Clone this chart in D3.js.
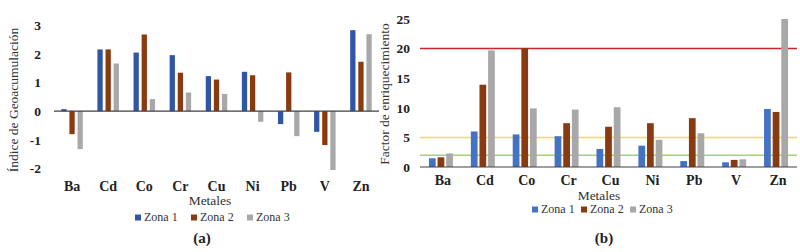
<!DOCTYPE html>
<html>
<head>
<meta charset="utf-8">
<script src="https://cdn.jsdelivr.net/npm/d3@7"></script>
<style>
  body { margin: 0; background: #fff; }
  text { font-family: "Liberation Serif", "DejaVu Serif", serif; }
</style>
</head>
<body>
<svg id="chart" width="800" height="252"></svg>
<script>
// Datos
const metales = ["Ba", "Cd", "Co", "Cr", "Cu", "Ni", "Pb", "V", "Zn"];
const zonas = ["Zona 1", "Zona 2", "Zona 3"];

// (a) Índice de geoacumulación
const igeoZona1 = [0.07, 2.15, 2.04, 1.95, 1.22, 1.37, -0.45, -0.72, 2.82];
const igeoZona2 = [-0.8, 2.15, 2.67, 1.34, 1.1, 1.25, 1.35, -1.18, 1.72];
const igeoZona3 = [-1.32, 1.66, 0.42, 0.65, 0.6, -0.37, -0.87, -2.05, 2.68];
const igeoTicks = [-2, -1, 0, 1, 2, 3];

// (b) Factor de enriquecimiento
const feZona1 = [1.47, 6.0, 5.5, 5.2, 3.05, 3.6, 1.0, 0.8, 9.8];
const feZona2 = [1.64, 13.9, 20.1, 7.4, 6.8, 7.4, 8.25, 1.2, 9.3];
const feZona3 = [2.3, 19.7, 9.9, 9.7, 10.1, 4.6, 5.7, 1.3, 25];
const feTicks = [0, 5, 10, 15, 20, 25];
const feUmbrales = [20, 5, 2];

const svg = d3.select("#chart");

function dibujarPanel(cfg) {
    const x = d3.scaleBand().domain(metales).range(cfg.xRange);
    const xZona = d3.scaleBand().domain(zonas).range([0, cfg.grupo]).paddingInner(cfg.pad);
    const y = d3.scaleLinear().domain(cfg.yDomain).range(cfg.yRange);
    const color = d3.scaleOrdinal().domain(zonas).range(cfg.colores);
    const off = (x.bandwidth() - cfg.grupo) / 2;

    const filas = metales.map((m, i) => ({
        metal: m,
        valores: zonas.map((z, j) => ({zona: z, valor: cfg.series[j][i]}))
    }));

    const g = svg.append("g");

    // líneas de referencia
    (cfg.umbrales || []).forEach((u, i) => {
        g.append("line")
            .attr("x1", cfg.xRange[0]).attr("x2", cfg.xRange[1])
            .attr("y1", y(u)).attr("y2", y(u))
            .attr("stroke", cfg.coloresUmbral[i])
            .attr("stroke-width", 1.5);
    });

    // barras
    g.selectAll("g.grupo")
        .data(filas)
        .enter()
        .append("g")
        .attr("transform", d => "translate(" + (x(d.metal) + off) + ",0)")
        .selectAll("rect")
        .data(d => d.valores)
        .enter()
        .append("rect")
        .attr("x", d => xZona(d.zona))
        .attr("width", xZona.bandwidth())
        .attr("y", d => y(Math.max(0, d.valor)))
        .attr("height", d => Math.abs(y(d.valor) - y(0)))
        .attr("fill", d => color(d.zona));

    // eje cero
    g.append("line")
        .attr("x1", cfg.xRange[0]).attr("x2", cfg.xRange[1])
        .attr("y1", y(0)).attr("y2", y(0))
        .attr("stroke", "#404040")
        .attr("stroke-width", 1.2);

    // ticks del eje y (guion simple como en el original)
    const ejeY = d3.axisLeft(y)
        .tickValues(cfg.ticks)
        .tickSize(0)
        .tickPadding(0)
        .tickFormat(d => String(d));
    const gy = g.append("g")
        .attr("transform", "translate(" + cfg.tickX + ",0)")
        .call(ejeY);
    gy.select(".domain").remove();
    gy.selectAll("text")
        .style("font-family", "'Liberation Serif', serif")
        .style("font-size", "13.5px")
        .style("font-weight", "bold")
        .attr("fill", "#222");

    // etiquetas de categorías
    g.selectAll("text.cat")
        .data(metales)
        .enter()
        .append("text")
        .attr("class", "cat")
        .attr("x", d => x(d) + x.bandwidth() / 2 + cfg.catShift)
        .attr("y", cfg.catY)
        .attr("text-anchor", "middle")
        .style("font-size", "14px")
        .style("font-weight", "bold")
        .attr("fill", "#222")
        .text(d => d);

    // título eje x
    g.append("text")
        .attr("x", cfg.metalesX)
        .attr("y", cfg.metalesY)
        .attr("text-anchor", "middle")
        .style("font-size", "13.5px")
        .attr("fill", "#333")
        .text("Metales");

    // título eje y
    g.append("text")
        .attr("transform", "translate(" + cfg.tituloY[0] + "," + cfg.tituloY[1] + ") rotate(-90)")
        .attr("text-anchor", "middle")
        .style("font-size", "13.5px")
        .attr("fill", "#333")
        .text(cfg.titulo);

    // leyenda
    const leyenda = g.append("g")
        .attr("transform", "translate(" + cfg.leyenda[0] + "," + cfg.leyenda[1] + ")");
    zonas.forEach((z, i) => {
        const item = leyenda.append("g")
            .attr("transform", "translate(" + (i * cfg.leyendaPaso) + ",0)");
        item.append("rect")
            .attr("x", 0).attr("y", -6.5)
            .attr("width", 6).attr("height", 6)
            .attr("fill", color(z));
        item.append("text")
            .attr("x", 9).attr("y", 0)
            .style("font-size", "12px")
            .attr("fill", "#333")
            .text(z);
    });

    // letra del panel
    g.append("text")
        .attr("x", cfg.letra[0])
        .attr("y", cfg.letra[1])
        .attr("text-anchor", "middle")
        .style("font-size", "15px")
        .style("font-weight", "bold")
        .attr("fill", "#222")
        .text(cfg.letraTxt);
}

dibujarPanel({
    series: [igeoZona1, igeoZona2, igeoZona3],
    colores: ["#2f55a4", "#8a3a10", "#a8a8a8"],
    xRange: [54, 379],
    grupo: 21.5,
    pad: 0.35,
    yDomain: [-2, 3],
    yRange: [168.6, 25],
    ticks: igeoTicks,
    tickX: 41,
    catShift: 0,
    catY: 190.5,
    metalesX: 210,
    metalesY: 205,
    titulo: "Índice de Geoacumulación",
    tituloY: [18, 100],
    leyenda: [135, 221],
    leyendaPaso: 56,
    letra: [202, 243],
    letraTxt: "(a)"
});

dibujarPanel({
    series: [feZona1, feZona2, feZona3],
    colores: ["#4472c4", "#8a3a10", "#a8a8a8"],
    xRange: [420, 797],
    grupo: 24,
    pad: 0.22,
    yDomain: [0, 25],
    yRange: [167, 19],
    ticks: feTicks,
    tickX: 410,
    umbrales: feUmbrales,
    coloresUmbral: ["#c8262c", "#f1dc5a", "#a6d46c"],
    catShift: 2,
    catY: 184.5,
    metalesX: 599,
    metalesY: 200,
    titulo: "Factor de enriquecimiento",
    tituloY: [389, 94],
    leyenda: [532, 213],
    leyendaPaso: 49,
    letra: [604, 243],
    letraTxt: "(b)"
});
</script>
</body>
</html>
